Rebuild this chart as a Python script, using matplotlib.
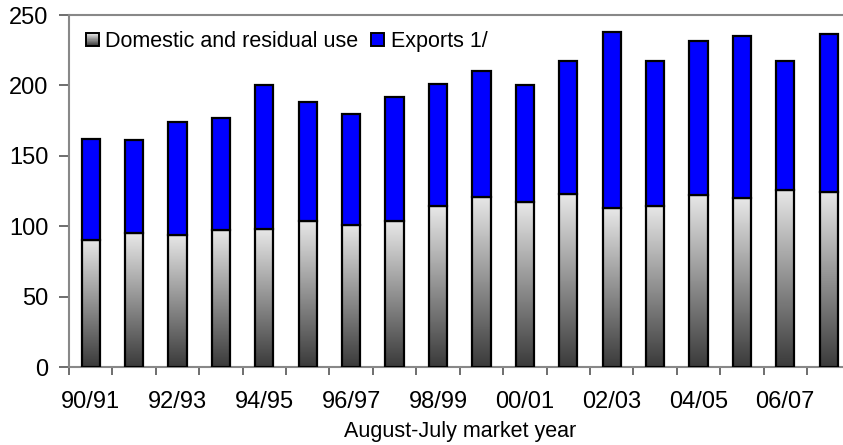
import numpy as np
import matplotlib
matplotlib.use("Agg")
import matplotlib.pyplot as plt  # noqa
from matplotlib.patches import Rectangle
from matplotlib.colors import LinearSegmentedColormap
from matplotlib.legend_handler import HandlerBase

years = ["90/91", "91/92", "92/93", "93/94", "94/95", "95/96", "96/97",
         "97/98", "98/99", "99/00", "00/01", "01/02", "02/03", "03/04",
         "04/05", "05/06", "06/07", "07/08"]
domestic = [90.5, 95, 94, 97, 98, 104, 101, 103.5, 114, 121, 117, 122.8,
            112.6, 114.5, 122.5, 119.7, 126, 124]
totals = [162, 161.5, 174, 176.5, 200.4, 188, 180, 191.5, 200.8, 210.5,
          200.4, 217.6, 237.8, 217.6, 231.4, 235.2, 217.6, 236.3]
exports = [t - d for t, d in zip(totals, domestic)]

plt.rcParams["font.family"] = ["Liberation Sans", "DejaVu Sans"]

grad = LinearSegmentedColormap.from_list("g", ["#3a3a3a", "#e8e8e8"])


class GradientHandler(HandlerBase):
    """Draw the legend key as a vertical dark-to-light gradient square"""
    def create_artists(self, legend, orig_handle, xdescent, ydescent,
                       width, height, fontsize, trans):
        n = 12
        arts = []
        for i in range(n):
            r = Rectangle((-xdescent, -ydescent + height * i / n), width,
                          height / n, facecolor=grad(i / (n - 1)),
                          edgecolor="none", transform=trans)
            arts.append(r)
        arts.append(Rectangle((-xdescent, -ydescent), width, height,
                              facecolor="none", edgecolor="black",
                              linewidth=1.4, transform=trans))
        return arts


fig = plt.figure(figsize=(8.43, 4.45), dpi=100)
ax = fig.add_axes([69 / 843, 78 / 445, 781.4 / 843, 352 / 445])

x = np.arange(len(years))
w = 0.42
gimg = np.linspace(0, 1, 256).reshape(-1, 1)
for xi, d in zip(x, domestic):
    ax.imshow(gimg, cmap=grad, origin="lower", aspect="auto",
              extent=(xi - w / 2, xi + w / 2, 0, d), zorder=2)
ax.bar(x, domestic, width=w, facecolor="none", edgecolor="black",
       linewidth=1.6, zorder=3)
ax.bar(x, exports, bottom=domestic, width=w, color="#0000ff",
       edgecolor="black", linewidth=1.6, zorder=3)

ax.set_xlim(-0.5, len(years) - 0.5)
ax.set_ylim(0, 250)
ax.set_yticks(range(0, 251, 50))
ax.set_xticks(x[::2])
ax.set_xticklabels(years[::2])
ax.set_xticks(np.arange(-0.5, len(years)), minor=True)
ax.tick_params(axis="x", which="major", length=0, pad=17, labelsize=17)
ax.tick_params(axis="x", which="minor", length=6, width=1.2,
               color="#555555", direction="out")
ax.tick_params(axis="y", length=7, width=1.2, color="#555555", pad=8,
               labelsize=17)

for side in ["left", "bottom", "top"]:
    ax.spines[side].set_color("#888888")
    ax.spines[side].set_linewidth(1.5)
ax.spines["right"].set_visible(False)

ax.set_xlabel("August-July market year", fontsize=15.5)
ax.xaxis.set_label_coords(0.5, -0.152)

dom_key = Rectangle((0, 0), 1, 1)
exp_key = Rectangle((0, 0), 1, 1, facecolor="#0000ff", edgecolor="black",
                    linewidth=1.4)
ax.legend([dom_key, exp_key], ["Domestic and residual use", "Exports 1/"],
          handler_map={dom_key: GradientHandler()}, ncol=2, frameon=False,
          loc="upper left", bbox_to_anchor=(17 / 781.4, 1 - 16 / 352),
          fontsize=15.5, handlelength=0.6, handleheight=0.6,
          handletextpad=0.3, columnspacing=0.6, borderpad=0,
          borderaxespad=0)

fig.savefig("out.png", dpi=100)
